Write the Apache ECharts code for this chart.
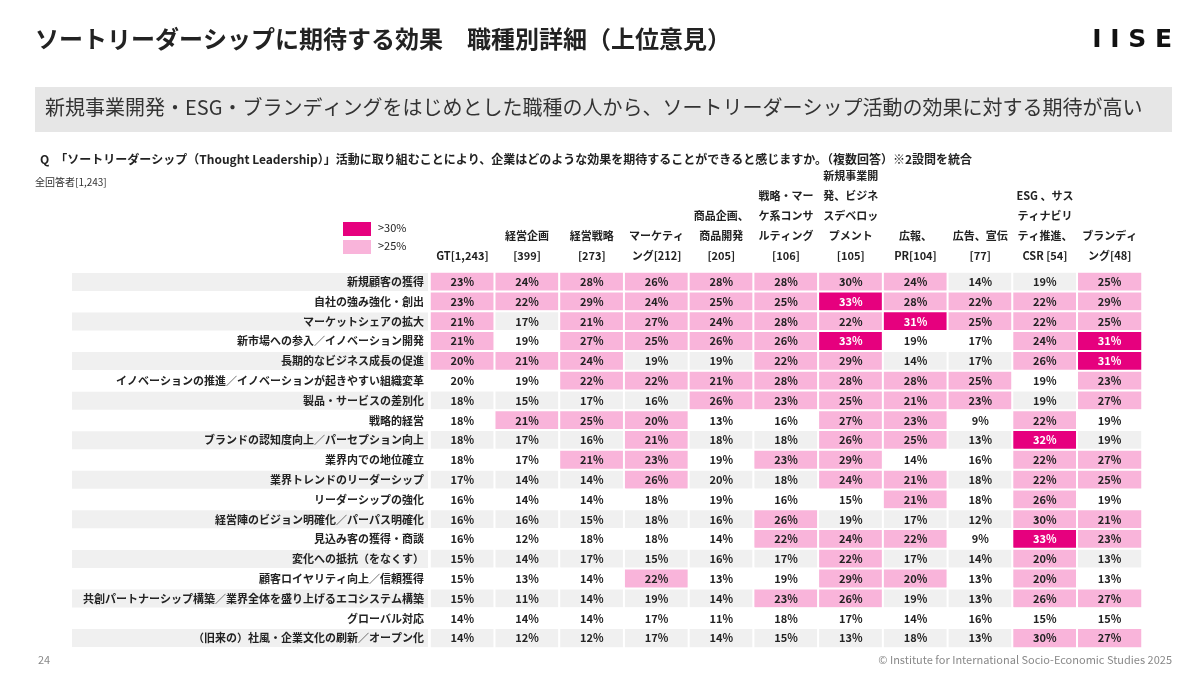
<!DOCTYPE html>
<html><head><meta charset="utf-8">
<script src="https://cdn.jsdelivr.net/npm/echarts@6/dist/echarts.min.js"></script>
<style>html,body{margin:0;padding:0;background:#fff}#main{width:1200px;height:675px}</style>
</head><body><div id="main"></div>
<script>
var columns = ['GT[1,243]', '経営企画\n[399]', '経営戦略\n[273]', 'マーケティ\nング[212]', '商品企画、\n商品開発\n[205]',
  '戦略・マー\nケ系コンサ\nルティング\n[106]', '新規事業開\n発、ビジネ\nスデベロッ\nプメント\n[105]', '広報、\nPR[104]',
  '広告、宣伝\n[77]', 'ESG 、サス\nティナビリ\nティ推進、\nCSR [54]', 'ブランディ\nング[48]'];
var rows = ['新規顧客の獲得', '自社の強み強化・創出', 'マーケットシェアの拡大', '新市場への参入／イノベーション開発',
  '長期的なビジネス成長の促進', 'イノベーションの推進／イノベーションが起きやすい組織変革', '製品・サービスの差別化',
  '戦略的経営', 'ブランドの認知度向上／パーセプション向上', '業界内での地位確立', '業界トレンドのリーダーシップ',
  'リーダーシップの強化', '経営陣のビジョン明確化／パーパス明確化', '見込み客の獲得・商談', '変化への抵抗（をなくす）',
  '顧客ロイヤリティ向上／信頼獲得', '共創パートナーシップ構築／業界全体を盛り上げるエコシステム構築', 'グローバル対応',
  '（旧来の）社風・企業文化の刷新／オープン化'];
var values = [
  [23,24,28,26,28,28,30,24,14,19,25],
  [23,22,29,24,25,25,33,28,22,22,29],
  [21,17,21,27,24,28,22,31,25,22,25],
  [21,19,27,25,26,26,33,19,17,24,31],
  [20,21,24,19,19,22,29,14,17,26,31],
  [20,19,22,22,21,28,28,28,25,19,23],
  [18,15,17,16,26,23,25,21,23,19,27],
  [18,21,25,20,13,16,27,23,9,22,19],
  [18,17,16,21,18,18,26,25,13,32,19],
  [18,17,21,23,19,23,29,14,16,22,27],
  [17,14,14,26,20,18,24,21,18,22,25],
  [16,14,14,18,19,16,15,21,18,26,19],
  [16,16,15,18,16,26,19,17,12,30,21],
  [16,12,18,18,14,22,24,22,9,33,23],
  [15,14,17,15,16,17,22,17,14,20,13],
  [15,13,14,22,13,19,29,20,13,20,13],
  [15,11,14,19,14,23,26,19,13,26,27],
  [14,14,14,17,11,18,17,14,16,15,15],
  [14,12,12,17,14,15,13,18,13,30,27]
];
// highlight level as shown in the picture: 0 none, 1 light pink, 2 deep pink
var levels = [
  [1,1,1,1,1,1,1,1,0,0,1],
  [1,1,1,1,1,1,2,1,1,1,1],
  [1,0,1,1,1,1,1,2,1,1,1],
  [1,0,1,1,1,1,2,0,0,1,2],
  [1,1,1,0,0,1,1,0,0,1,2],
  [0,0,1,1,1,1,1,1,1,0,1],
  [0,0,0,0,1,1,1,1,1,0,1],
  [0,1,1,1,0,0,1,1,0,1,0],
  [0,0,0,1,0,0,1,1,0,2,0],
  [0,0,1,1,0,1,1,0,0,1,1],
  [0,0,0,1,0,0,1,1,0,1,1],
  [0,0,0,0,0,0,0,1,0,1,0],
  [0,0,0,0,0,1,0,0,0,1,1],
  [0,0,0,0,0,1,1,1,0,2,1],
  [0,0,0,0,0,0,1,0,0,1,0],
  [0,0,0,1,0,0,1,1,0,1,0],
  [0,0,0,0,0,1,1,0,0,1,1],
  [0,0,0,0,0,0,0,0,0,0,0],
  [0,0,0,0,0,0,0,0,0,1,1]
];
var legendLabels = ['>30%', '>25%'];

var HOT = '#E6007E', LIGHT = '#F9B4DA', GRAY = '#F0F0F0';
var FONT = '"Noto Sans CJK JP", "Noto Sans", sans-serif';
var data = [];
rows.forEach(function(r, i){
  values[i].forEach(function(v, j){
    var lv = levels[i][j];
    var c = lv === 2 ? HOT : lv === 1 ? LIGHT : (i % 2 === 0 ? GRAY : '#FFFFFF');
    data.push({value:[j, i, v], itemStyle:{color:c},
      label:{color: lv === 2 ? '#fff' : '#222'}});
  });
});

var myChart = echarts.init(document.getElementById('main'));
var option = {
  textStyle:{fontFamily:FONT},
  animation:false,
  grid:{left:430, right:58, top:272, bottom:27},
  xAxis:{
    type:'category', data:columns, position:'top',
    axisLine:{show:false}, axisTick:{show:false},
    axisLabel:{fontSize:11, fontWeight:'bold', color:'#222', lineHeight:20, margin:6, interval:0}
  },
  yAxis:{
    type:'category', data:rows, inverse:true,
    axisLine:{show:false}, axisTick:{show:false},
    axisLabel:{margin:2, interval:0,
      formatter:function(v, i){ return (i % 2 === 0 ? '{g|' : '{w|') + v + '}'; },
      rich:{
        g:{backgroundColor:GRAY, width:352, height:18, align:'right', padding:[0,4,0,0], fontSize:11, fontWeight:'bold', color:'#222'},
        w:{backgroundColor:'#fff', width:352, height:18, align:'right', padding:[0,4,0,0], fontSize:11, fontWeight:'bold', color:'#222'}
      }}
  },
  series:[{
    type:'heatmap', data:data,
    itemStyle:{borderColor:'#fff', borderWidth:2},
    label:{show:true, fontSize:11, fontWeight:'bold',
      formatter:function(p){ return p.value[2] + '%'; }}
  }],
  graphic:[
    {type:'text', left:35, top:27, style:{text:'ソートリーダーシップに期待する効果　職種別詳細（上位意見）', font:'bold 24px ' + FONT, fill:'#222'}},
    {type:'text', right:28, top:28, style:{text:'I I S E', font:'bold 25px "DejaVu Sans", sans-serif', fill:'#111'}},
    {type:'rect', shape:{x:35, y:87, width:1137, height:45}, style:{fill:'#E6E6E6'}},
    {type:'text', left:45, top:97, style:{text:'新規事業開発・ESG・ブランディングをはじめとした職種の人から、ソートリーダーシップ活動の効果に対する期待が高い', font:'20px ' + FONT, fill:'#333'}},
    {type:'text', left:40, top:153, style:{text:'Q　「ソートリーダーシップ（Thought Leadership）」活動に取り組むことにより、企業はどのような効果を期待することができると感じますか。（複数回答）※2設問を統合', font:'bold 12px ' + FONT, fill:'#222'}},
    {type:'text', left:35, top:177, style:{text:'全回答者[1,243]', font:'10px ' + FONT, fill:'#333'}},
    {type:'rect', shape:{x:343, y:222, width:28, height:14}, style:{fill:HOT}},
    {type:'rect', shape:{x:343, y:240, width:28, height:14}, style:{fill:LIGHT}},
    {type:'text', left:378, top:222, style:{text:legendLabels[0], font:'11px ' + FONT, fill:'#222'}},
    {type:'text', left:378, top:240, style:{text:legendLabels[1], font:'11px ' + FONT, fill:'#222'}},
    {type:'text', left:38, top:654, style:{text:'24', font:'11px ' + FONT, fill:'#888'}},
    {type:'text', right:28, top:654, style:{text:'© Institute for International Socio-Economic Studies 2025', font:'11px ' + FONT, fill:'#888'}}
  ]
};
myChart.setOption(option);
</script></body></html>
